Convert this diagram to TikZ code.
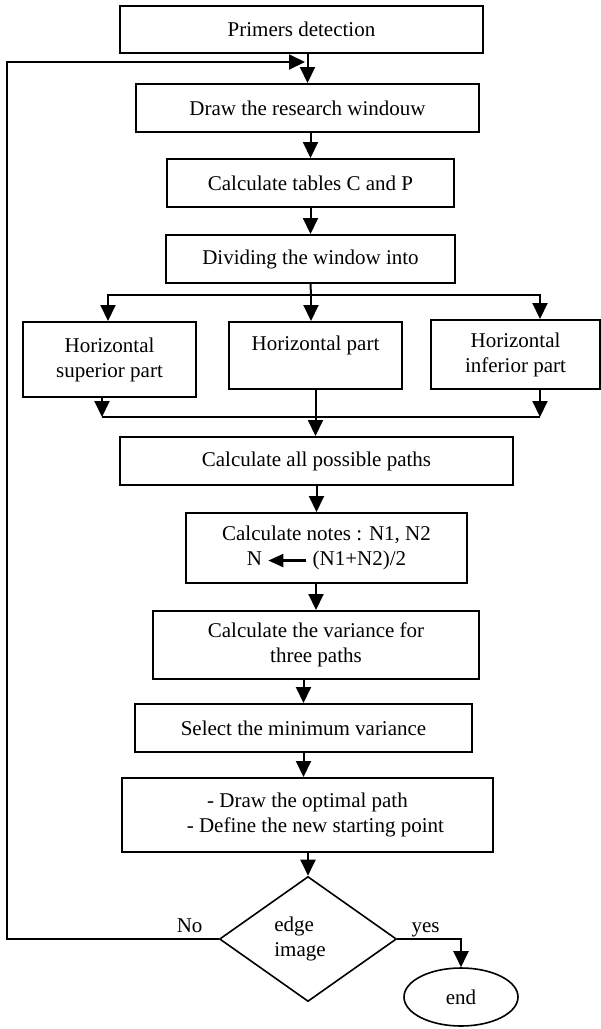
\documentclass[tikz,border=0pt]{standalone}
\usepackage{fontspec}
\setmainfont{Liberation Serif}
\usetikzlibrary{arrows.meta,shapes.geometric,positioning}

\begin{document}
\begin{tikzpicture}[x=1pt, y=-1pt,
		box/.style={draw=black, line width=2pt, rectangle, align=center, inner sep=0pt, font=\fontsize{21}{25}\selectfont},
		arr/.style={black, line width=2pt, -{Triangle[width=15pt,length=16pt]}},
		lne/.style={black, line width=2pt},
		lbl/.style={inner sep=0pt, font=\fontsize{21}{25}\selectfont}]
		\useasboundingbox (0,0) rectangle (601,1029);

		\node[box, minimum width=363pt, minimum height=47pt] (prim) at (301.5, 29.5) {Primers detection};
		\node[box, minimum width=343pt, minimum height=48pt] (win) at (307.5, 108) {Draw the research windouw};
		\node[box, minimum width=287pt, minimum height=48pt] (tab) at (310.5, 183) {Calculate tables C and P};
		\node[box, minimum width=289pt, minimum height=48pt] (div) at (310.5, 259) {Dividing the window into};

		\node[box, minimum width=173pt, minimum height=75pt] (sup) at (109.5, 359.5) {Horizontal\\superior part};
		\node[box, minimum width=173pt, minimum height=67pt] (hor) at (315.5, 355.5) {Horizontal part\\\mbox{}};
		\node[box, minimum width=169pt, minimum height=69pt] (inf) at (515.5, 354.5) {Horizontal\\inferior part};

		\node[box, minimum width=393pt, minimum height=48pt] (all) at (316.5, 461) {Calculate all possible paths};
		\node[box, minimum width=281pt, minimum height=70pt] (note) at (326.5, 548) {Calculate notes : N1, N2\\N \tikz[baseline=-5pt]\draw[line width=2.2pt, -{Triangle[width=13pt,length=15pt]}] (38pt,0pt) -- (0pt,0pt); (N1+N2)/2};
		\node[box, minimum width=326pt, minimum height=68pt] (var) at (316, 645) {Calculate the variance for\\three paths};
		\node[box, minimum width=337pt, minimum height=48pt] (sel) at (303.5, 728) {Select the minimum variance};
		\node[box, minimum width=371pt, minimum height=74pt] (opt) at (307.5, 815) {- Draw the optimal path\\\ \ \ - Define the new starting point};

		\node[box, diamond, line width=1.6pt, align=left, minimum width=177pt, minimum height=125pt] (edge) at (308, 939) {edge\\image\hspace*{16pt}};
		\node[box, ellipse, line width=1.6pt, minimum width=114pt, minimum height=58pt] (end) at (461, 997) {end};

		\node[lbl, above left=6pt and 16pt of edge.west] (no) {No};
		\node[lbl, above right=2pt and 14pt of edge.east] (yes) {yes};

		% main column
		\draw[arr] (prim.south -| win.north) -- (win.north);
		\draw[arr] (win.south -| tab.north) -- (tab.north);
		\draw[arr] (tab.south) -- (tab.south |- div.north);

		% split into three parts
		\coordinate (split) at (311, 295);
		\draw[lne] (div.south) -- (split);
		\draw[arr] (split) -| ([xshift=-1.5pt]sup.north);
		\draw[arr] (split) -- (split |- hor.north);
		\draw[arr] (split) -| ([xshift=24.5pt]inf.north);

		% merge
		\coordinate (merge) at (315.5, 417);
		\draw[arr] ([xshift=-7.5pt]sup.south) -- ([xshift=-7.5pt]sup.south |- merge);
		\draw[arr] ([xshift=24.5pt]inf.south) -- ([xshift=24.5pt]inf.south |- merge);
		\draw[lne] ([xshift=-7.5pt]sup.south |- merge) -- ([xshift=24.5pt]inf.south |- merge);
		\draw[arr] (hor.south) -- (hor.south |- all.north);

		\draw[arr] (all.south) -- (all.south |- note.north);
		\draw[arr] (var.north |- note.south) -- (var.north);
		\draw[arr] (sel.north |- var.south) -- (sel.north);
		\draw[arr] (sel.south) -- (sel.south |- opt.north);
		\draw[arr] (edge.north |- opt.south) -- (edge.north);

		% decision
		\coordinate (lft) at (7, 0);
		\coordinate (back) at (305, 62);
		\draw[arr] (edge.west) -- (edge.west -| lft) -- (lft |- back) -- (back);
		\draw[arr] (edge.east) -| (end.north);
	\end{tikzpicture}
\end{document}
